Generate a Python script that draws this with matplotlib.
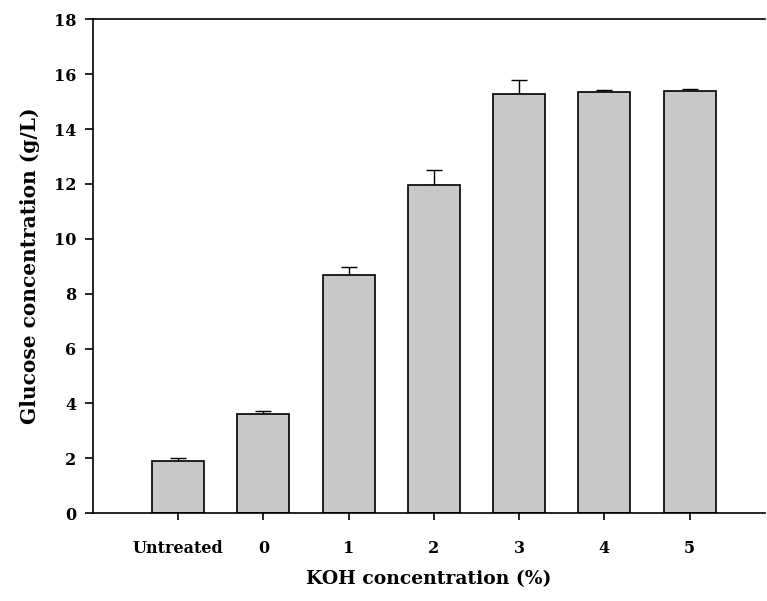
import matplotlib.pyplot as plt
import numpy as np

categories = ['Untreated', '0', '1', '2', '3', '4', '5']
glucose = [1.90, 3.60, 8.68, 11.95, 15.27, 15.34, 15.38]
glucose_err = [0.10, 0.12, 0.30, 0.55, 0.50, 0.07, 0.06]

plt.rcParams['font.family'] = 'DejaVu Serif'
plt.rcParams['font.weight'] = 'bold'

fig = plt.figure(figsize=(7.67, 6.01), dpi=100)
ax = fig.add_axes([0.121, 0.146, 0.876, 0.822])

x = np.arange(len(categories))
ax.bar(x, glucose, width=0.61, color='#c8c8c8', edgecolor='black', linewidth=1.2,
       zorder=2)
ax.errorbar(x, glucose, yerr=[np.zeros(len(glucose)), glucose_err], fmt='none',
            ecolor='black', elinewidth=1.0, capsize=5.5, capthick=1.0, zorder=1)

ax.set_xlim(-1, 6.88)
ax.set_ylim(0, 18)
ax.set_yticks(np.arange(0, 19, 2))
ax.set_xticks(x)
ax.set_xticklabels(categories)

ax.spines['right'].set_visible(False)
for s in ['left', 'bottom', 'top']:
    ax.spines[s].set_linewidth(1.2)
ax.tick_params(axis='y', direction='out', length=6, width=1.2, labelsize=11.5, pad=6)
ax.tick_params(axis='x', direction='out', length=5, width=1.2, labelsize=11.5, pad=14)

ax.set_ylabel('Glucose concentration (g/L)', fontsize=14.5, fontweight='bold', labelpad=10)
ax.set_xlabel('KOH concentration (%)', fontsize=13.5, fontweight='bold', labelpad=10)

fig.savefig('out.png', dpi=100)
